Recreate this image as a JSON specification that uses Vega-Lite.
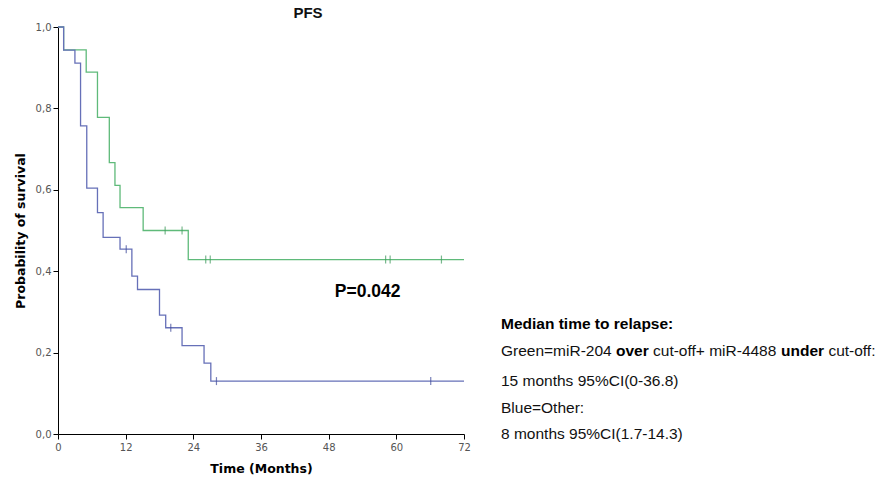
{
  "$schema": "https://vega.github.io/schema/vega-lite/v6.json",
  "autosize": "none",
  "padding": {"left": 58, "top": 27, "right": 421, "bottom": 47},
  "width": 406,
  "height": 407,
  "background": "white",
  "config": {"view": {"stroke": null}},
  "title": {"text": "PFS", "font": "Liberation Sans", "fontSize": 15, "fontWeight": "bold", "color": "#111", "anchor": "middle", "dx": 47, "offset": 1},
  "datasets": {
    "steps": [
      {"group": "Green", "month": 0, "prob": 1.0},
      {"group": "Green", "month": 1, "prob": 0.944},
      {"group": "Green", "month": 5, "prob": 0.889},
      {"group": "Green", "month": 7, "prob": 0.778},
      {"group": "Green", "month": 9.1, "prob": 0.667},
      {"group": "Green", "month": 10.1, "prob": 0.611},
      {"group": "Green", "month": 11, "prob": 0.556},
      {"group": "Green", "month": 15.1, "prob": 0.5},
      {"group": "Green", "month": 23.1, "prob": 0.4286},
      {"group": "Green", "month": 72, "prob": 0.4286},
      {"group": "Blue", "month": 0, "prob": 1.0},
      {"group": "Blue", "month": 1, "prob": 0.943},
      {"group": "Blue", "month": 3, "prob": 0.911},
      {"group": "Blue", "month": 4, "prob": 0.757},
      {"group": "Blue", "month": 5.1, "prob": 0.604},
      {"group": "Blue", "month": 7, "prob": 0.544},
      {"group": "Blue", "month": 8, "prob": 0.483},
      {"group": "Blue", "month": 11, "prob": 0.454},
      {"group": "Blue", "month": 13.1, "prob": 0.388},
      {"group": "Blue", "month": 14.1, "prob": 0.355},
      {"group": "Blue", "month": 18, "prob": 0.292},
      {"group": "Blue", "month": 19.1, "prob": 0.261},
      {"group": "Blue", "month": 22, "prob": 0.217},
      {"group": "Blue", "month": 25.9, "prob": 0.174},
      {"group": "Blue", "month": 27.1, "prob": 0.13},
      {"group": "Blue", "month": 72, "prob": 0.13}
    ],
    "censored": [
      {"group": "Green", "month": 19, "prob": 0.5},
      {"group": "Green", "month": 22, "prob": 0.5},
      {"group": "Green", "month": 26.2, "prob": 0.4286},
      {"group": "Green", "month": 27, "prob": 0.4286},
      {"group": "Green", "month": 58.1, "prob": 0.4286},
      {"group": "Green", "month": 58.9, "prob": 0.4286},
      {"group": "Green", "month": 68, "prob": 0.4286},
      {"group": "Blue", "month": 12.1, "prob": 0.454},
      {"group": "Blue", "month": 20, "prob": 0.261},
      {"group": "Blue", "month": 28.1, "prob": 0.13},
      {"group": "Blue", "month": 66.1, "prob": 0.13}
    ],
    "notes": [
      {"kind": "pvalue", "text": "P=0.042", "month": 49.1, "prob": 0.35},
      {"kind": "heading", "text": "Median time to relapse:", "month": 78.56, "prob": 0.27},
      {"kind": "body", "text": "Green=miR-204", "month": 78.56, "prob": 0.203},
      {"kind": "emphasis", "text": "over", "month": 98.96, "prob": 0.203},
      {"kind": "body", "text": "cut-off+ miR-4488", "month": 105.52, "prob": 0.203},
      {"kind": "emphasis", "text": "under", "month": 128.22, "prob": 0.203},
      {"kind": "body", "text": "cut-off:", "month": 136.62, "prob": 0.203},
      {"kind": "body", "text": "15 months 95%CI(0-36.8)", "month": 78.56, "prob": 0.13},
      {"kind": "body", "text": "Blue=Other:", "month": 78.56, "prob": 0.063},
      {"kind": "body", "text": "8 months 95%CI(1.7-14.3)", "month": 78.56, "prob": -0.001}
    ]
  },
  "layer": [
    {
      "data": {"name": "steps"},
      "mark": {"type": "line", "interpolate": "step-after", "strokeWidth": 1.3},
      "encoding": {
        "x": {"field": "month", "type": "quantitative", "scale": {"domain": [0, 72], "nice": false, "zero": false},
          "axis": {"values": [0, 12, 24, 36, 48, 60, 72], "grid": false, "title": "Time (Months)", "domainColor": "#000", "tickColor": "#000", "tickSize": 5, "labelFont": "DejaVu Sans", "labelFontSize": 10, "labelColor": "#555", "labelPadding": 3, "labelFlush": false, "titleFont": "DejaVu Sans", "titleFontSize": 12.5, "titleFontWeight": "bold", "titleColor": "#000", "titlePadding": 10}},
        "y": {"field": "prob", "type": "quantitative", "scale": {"domain": [0, 1], "nice": false},
          "axis": {"values": [0, 0.2, 0.4, 0.6, 0.8, 1.0], "grid": false, "title": "Probability of survival", "labelExpr": "replace(format(datum.value, '.1f'), '.', ',')", "domainColor": "#000", "tickColor": "#000", "tickSize": 5, "labelFont": "DejaVu Sans", "labelFontSize": 10, "labelColor": "#555", "labelPadding": 2, "titleFont": "DejaVu Sans", "titleFontSize": 12.5, "titleFontWeight": "bold", "titleColor": "#000", "titlePadding": 8}},
        "color": {"field": "group", "type": "nominal", "scale": {"domain": ["Green", "Blue"], "range": ["#5fba7a", "#6670b8"]}, "legend": null},
        "detail": {"field": "group"}
      }
    },
    {
      "data": {"name": "censored"},
      "mark": {"type": "tick", "orient": "vertical", "size": 8, "thickness": 1.2},
      "encoding": {
        "x": {"field": "month", "type": "quantitative"},
        "y": {"field": "prob", "type": "quantitative"},
        "color": {"field": "group", "type": "nominal", "scale": {"domain": ["Green", "Blue"], "range": ["#3f9a5c", "#3f4a9a"]}, "legend": null}
      }
    },
    {
      "data": {"name": "notes"},
      "transform": [{"filter": "datum.kind === 'pvalue'"}],
      "mark": {"type": "text", "align": "left", "baseline": "middle", "font": "Liberation Sans", "fontSize": 17.5, "fontWeight": "bold", "color": "#000"},
      "encoding": {"x": {"field": "month", "type": "quantitative"}, "y": {"field": "prob", "type": "quantitative"}, "text": {"field": "text"}}
    },
    {
      "data": {"name": "notes"},
      "transform": [{"filter": "datum.kind === 'heading' || datum.kind === 'emphasis'"}],
      "mark": {"type": "text", "align": "left", "baseline": "middle", "font": "Liberation Sans", "fontSize": 15.5, "fontWeight": "bold", "color": "#000"},
      "encoding": {"x": {"field": "month", "type": "quantitative"}, "y": {"field": "prob", "type": "quantitative"}, "text": {"field": "text"}}
    },
    {
      "data": {"name": "notes"},
      "transform": [{"filter": "datum.kind === 'body'"}],
      "mark": {"type": "text", "align": "left", "baseline": "middle", "font": "Liberation Sans", "fontSize": 15.5, "fontWeight": "normal", "color": "#111"},
      "encoding": {"x": {"field": "month", "type": "quantitative"}, "y": {"field": "prob", "type": "quantitative"}, "text": {"field": "text"}}
    }
  ],
  "resolve": {"scale": {"color": "independent"}}
}
